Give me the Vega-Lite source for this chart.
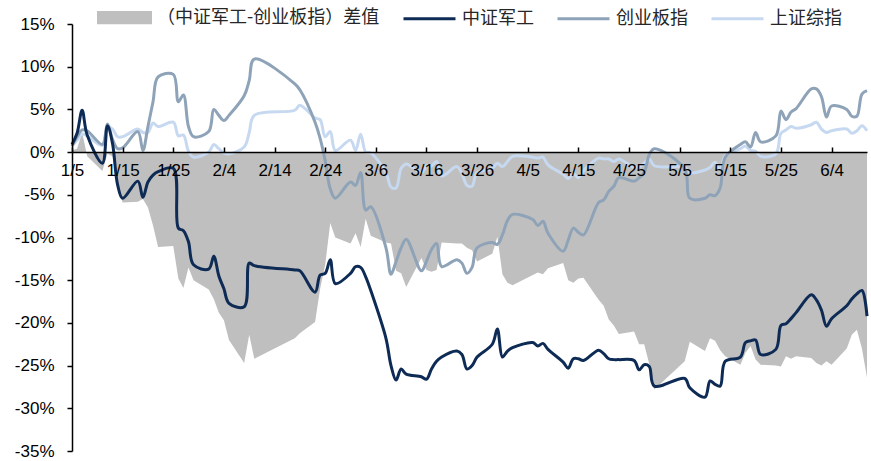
{
  "$schema": "https://vega.github.io/schema/vega-lite/v6.json",
  "width": 795,
  "height": 427,
  "autosize": {"type": "none"},
  "padding": {"left": 72, "top": 24, "right": 4, "bottom": 10},
  "background": "white",
  "config": {"view": {"stroke": null}, "font": "Liberation Sans"},
  "data": {"values": [
    {"date":"2021-01-05","中证军工":0.9,"创业板指":0.7,"上证综指":0.7,"差值":0.2},
    {"date":"2021-01-06","中证军工":2.2,"创业板指":1.8,"上证综指":1.4,"差值":0.4},
    {"date":"2021-01-07","中证军工":4.9,"创业板指":2.6,"上证综指":2.1,"差值":2.3},
    {"date":"2021-01-08","中证军工":2.0,"创业板指":2.5,"上证综指":1.9,"差值":-0.5},
    {"date":"2021-01-11","中证军工":-1.3,"创业板指":0.9,"上证综指":0.8,"差值":-2.2},
    {"date":"2021-01-12","中证军工":3.1,"创业板指":3.3,"上证综指":3.0,"差值":-0.2},
    {"date":"2021-01-13","中证军工":1.0,"创业板指":1.5,"上证综指":2.7,"差值":-0.5},
    {"date":"2021-01-14","中证军工":-3.8,"创业板指":0.4,"上证综指":1.8,"差值":-4.2},
    {"date":"2021-01-15","中证军工":-5.4,"创业板指":0.5,"上证综指":1.8,"差值":-5.9},
    {"date":"2021-01-18","中证军工":-3.4,"创业板指":2.4,"上证综指":2.7,"差值":-5.8},
    {"date":"2021-01-19","中证军工":-5.3,"创业板指":0.2,"上证综指":2.3,"差值":-5.5},
    {"date":"2021-01-20","中证军工":-3.5,"创业板指":3.0,"上证综指":2.3,"差值":-6.5},
    {"date":"2021-01-21","中证军工":-2.7,"创业板指":5.9,"上证综指":3.4,"差值":-8.6},
    {"date":"2021-01-22","中证军工":-2.3,"创业板指":8.8,"上证综指":3.0,"差值":-11.1},
    {"date":"2021-01-25","中证军工":-1.9,"创业板指":9.1,"上证综指":3.5,"差值":-11.0},
    {"date":"2021-01-26","中证军工":-8.9,"创业板指":5.9,"上证综指":1.9,"差值":-14.8},
    {"date":"2021-01-27","中证军工":-9.2,"创业板指":6.7,"上证综指":2.0,"差值":-15.9},
    {"date":"2021-01-28","中证军工":-10.5,"创业板指":3.0,"上证综指":0.1,"差值":-13.5},
    {"date":"2021-01-29","中证军工":-13.2,"创业板指":1.8,"上证综指":-0.6,"差值":-15.0},
    {"date":"2021-02-01","中证军工":-13.7,"创业板指":2.4,"上证综指":0.0,"差值":-16.1},
    {"date":"2021-02-02","中证军工":-12.2,"创业板指":5.0,"上证综指":0.9,"差值":-17.2},
    {"date":"2021-02-03","中证军工":-14.5,"创业板指":4.3,"上证综指":0.4,"差值":-18.8},
    {"date":"2021-02-04","中证军工":-16.0,"创业板指":3.7,"上证综指":-0.1,"差值":-19.7},
    {"date":"2021-02-05","中证军工":-17.7,"创业板指":4.3,"上证综指":-0.2,"差值":-22.0},
    {"date":"2021-02-08","中证军工":-18.1,"创业板指":6.6,"上证综指":0.6,"差值":-24.7},
    {"date":"2021-02-09","中证军工":-13.0,"创业板指":8.4,"上证综指":2.3,"差值":-21.4},
    {"date":"2021-02-10","中证军工":-13.3,"创业板指":10.9,"上证综指":4.3,"差值":-24.2},
    {"date":"2021-02-18","中证军工":-13.8,"创业板指":8.0,"上证综指":4.9,"差值":-21.8},
    {"date":"2021-02-19","中证军工":-13.9,"创业板指":7.3,"上证综指":5.5,"差值":-21.2},
    {"date":"2021-02-22","中证军工":-16.4,"创业板指":3.5,"上证综指":4.0,"差值":-19.9},
    {"date":"2021-02-23","中证军工":-14.4,"创业板指":1.6,"上证综指":3.8,"差值":-16.0},
    {"date":"2021-02-24","中证军工":-14.2,"创业板指":-1.0,"上证综指":1.8,"差值":-13.2},
    {"date":"2021-02-25","中证军工":-12.6,"创业板指":-4.3,"上证综指":2.4,"差值":-8.3},
    {"date":"2021-02-26","中证军工":-15.4,"创业板指":-5.4,"上证综指":0.2,"差值":-10.0},
    {"date":"2021-03-01","中证军工":-14.2,"创业板指":-3.5,"上证综指":1.4,"差值":-10.7},
    {"date":"2021-03-02","中证军工":-13.4,"创业板指":-3.9,"上证综指":0.2,"差值":-9.5},
    {"date":"2021-03-03","中证军工":-13.5,"创业板指":-2.4,"上证综指":2.1,"差值":-11.1},
    {"date":"2021-03-04","中证军工":-14.6,"创业板指":-6.8,"上证综指":0.0,"差值":-7.8},
    {"date":"2021-03-05","中证军工":-16.2,"创业板指":-6.4,"上证综指":-0.1,"差值":-9.8},
    {"date":"2021-03-08","中证军工":-21.8,"创业板指":-11.2,"上证综指":-2.4,"差值":-10.6},
    {"date":"2021-03-09","中证军工":-25.0,"创业板指":-14.3,"上证综指":-4.1,"差值":-10.7},
    {"date":"2021-03-10","中证军工":-26.7,"创业板指":-12.8,"上证综指":-4.2,"差值":-13.9},
    {"date":"2021-03-11","中证军工":-25.4,"创业板指":-11.2,"上证综指":-1.9,"差值":-14.2},
    {"date":"2021-03-12","中证军工":-26.0,"创业板指":-10.2,"上证综指":-1.4,"差值":-15.8},
    {"date":"2021-03-15","中证军工":-26.3,"创业板指":-13.9,"上证综指":-2.4,"差值":-12.4},
    {"date":"2021-03-16","中证军工":-26.6,"创业板指":-12.8,"上证综指":-1.6,"差值":-13.8},
    {"date":"2021-03-17","中证军工":-25.4,"创业板指":-11.4,"上证综指":-1.6,"差值":-14.0},
    {"date":"2021-03-18","中证军工":-24.5,"创业板指":-10.7,"上证综指":-1.1,"差值":-13.8},
    {"date":"2021-03-19","中证军工":-24.0,"创业板指":-13.4,"上证综指":-2.8,"差值":-10.6},
    {"date":"2021-03-22","中证军工":-23.3,"创业板指":-12.6,"上证综指":-1.7,"差值":-10.7},
    {"date":"2021-03-23","中证军工":-23.7,"创业板指":-13.0,"上证综指":-2.5,"差值":-10.7},
    {"date":"2021-03-24","中证军工":-25.4,"创业板指":-14.2,"上证综指":-3.9,"差值":-11.2},
    {"date":"2021-03-25","中证军工":-25.0,"创业板指":-13.5,"上证综指":-4.0,"差值":-11.5},
    {"date":"2021-03-26","中证军工":-24.0,"创业板指":-11.2,"上证综指":-2.4,"差值":-12.8},
    {"date":"2021-03-29","中证军工":-22.5,"创业板指":-10.6,"上证综指":-1.9,"差值":-11.9},
    {"date":"2021-03-30","中证军工":-20.7,"创业板指":-10.8,"上证综指":-1.3,"差值":-9.9},
    {"date":"2021-03-31","中证军工":-24.0,"创业板指":-9.7,"上证综指":-1.7,"差值":-14.3},
    {"date":"2021-04-01","中证军工":-23.3,"创业板指":-8.0,"上证综指":-1.1,"差值":-15.3},
    {"date":"2021-04-02","中证军工":-22.9,"创业板指":-7.3,"上证综指":-0.5,"差值":-15.6},
    {"date":"2021-04-06","中证军工":-22.3,"创业板指":-7.9,"上证综指":-0.6,"差值":-14.4},
    {"date":"2021-04-07","中证军工":-22.7,"创业板指":-8.6,"上证综指":-0.7,"差值":-14.1},
    {"date":"2021-04-08","中证军工":-22.4,"创业板指":-8.1,"上证综指":-0.6,"差值":-14.3},
    {"date":"2021-04-09","中证军工":-23.1,"创业板指":-9.5,"上证综指":-1.5,"差值":-13.6},
    {"date":"2021-04-12","中证军工":-24.6,"创业板指":-11.6,"上证综指":-2.6,"差值":-13.0},
    {"date":"2021-04-13","中证军工":-25.3,"创业板指":-10.3,"上证综指":-3.1,"差值":-15.0},
    {"date":"2021-04-14","中证军工":-24.2,"创业板指":-8.9,"上证综指":-2.5,"差值":-15.3},
    {"date":"2021-04-15","中证军工":-24.2,"创业板指":-9.4,"上证综指":-3.0,"差值":-14.8},
    {"date":"2021-04-16","中证军工":-24.4,"创业板指":-9.7,"上证综指":-2.2,"差值":-14.7},
    {"date":"2021-04-19","中证军工":-23.2,"创业板指":-5.9,"上证综指":-0.7,"差值":-17.3},
    {"date":"2021-04-20","中证军工":-23.6,"创业板指":-5.6,"上证综指":-0.8,"差值":-18.0},
    {"date":"2021-04-21","中证军工":-24.2,"创业板指":-4.6,"上证综指":-0.8,"差值":-19.6},
    {"date":"2021-04-22","中证军工":-24.3,"创业板指":-4.0,"上证综指":-1.1,"差值":-20.3},
    {"date":"2021-04-23","中证军工":-24.3,"创业板指":-3.0,"上证综指":-0.8,"差值":-21.3},
    {"date":"2021-04-26","中证军工":-24.4,"创业板指":-3.4,"上证综指":-1.8,"差值":-21.0},
    {"date":"2021-04-27","中证军工":-25.5,"创业板指":-3.0,"上证综指":-1.7,"差值":-22.5},
    {"date":"2021-04-28","中证军工":-24.9,"创业板指":-2.4,"上证综指":-1.3,"差值":-22.5},
    {"date":"2021-04-29","中证军工":-25.1,"创业板指":-0.3,"上证综指":-0.8,"差值":-24.8},
    {"date":"2021-04-30","中证军工":-27.4,"创业板指":0.4,"上证综指":-1.6,"差值":-27.8},
    {"date":"2021-05-06","中证军工":-26.5,"创业板指":-2.0,"上证综指":-1.8,"差值":-24.5},
    {"date":"2021-05-07","中证军工":-27.6,"创业板指":-5.4,"上证综指":-2.4,"差值":-22.2},
    {"date":"2021-05-10","中证军工":-28.7,"创业板指":-5.4,"上证综指":-2.1,"差值":-23.3},
    {"date":"2021-05-11","中证军工":-26.8,"创业板指":-5.0,"上证综指":-1.8,"差值":-21.8},
    {"date":"2021-05-12","中证军工":-27.2,"创业板指":-5.1,"上证综指":-1.2,"差值":-22.1},
    {"date":"2021-05-13","中证军工":-27.4,"创业板指":-4.2,"上证综指":-2.1,"差值":-23.2},
    {"date":"2021-05-14","中证军工":-24.5,"创业板指":-0.6,"上证综指":-0.4,"差值":-23.9},
    {"date":"2021-05-17","中证军工":-24.0,"创业板指":0.9,"上证综指":0.4,"差值":-24.9},
    {"date":"2021-05-18","中证军工":-22.3,"创业板指":1.2,"上证综指":0.7,"差值":-23.5},
    {"date":"2021-05-19","中证军工":-22.1,"创业板指":0.6,"上证综指":0.2,"差值":-22.7},
    {"date":"2021-05-20","中证军工":-22.0,"创业板指":2.3,"上证综指":0.1,"差值":-24.3},
    {"date":"2021-05-21","中证军工":-23.7,"创业板指":1.2,"上证综指":-0.5,"差值":-24.9},
    {"date":"2021-05-24","中证军工":-23.1,"创业板指":1.9,"上证综指":-0.2,"差值":-25.0},
    {"date":"2021-05-25","中证军工":-20.3,"创业板指":4.8,"上证综指":2.2,"差值":-25.1},
    {"date":"2021-05-26","中证军工":-20.1,"创业板指":3.8,"上证综指":2.6,"差值":-23.9},
    {"date":"2021-05-27","中证军工":-19.5,"创业板指":4.7,"上证综指":3.0,"差值":-24.2},
    {"date":"2021-05-28","中证军工":-18.8,"创业板指":5.1,"上证综指":2.8,"差值":-23.9},
    {"date":"2021-05-31","中证军工":-16.7,"创业板指":7.4,"上证综指":3.2,"差值":-24.1},
    {"date":"2021-06-01","中证军工":-17.3,"创业板指":7.4,"上证综指":3.5,"差值":-24.7},
    {"date":"2021-06-02","中证军工":-18.5,"创业板指":6.5,"上证综指":2.7,"差值":-25.0},
    {"date":"2021-06-03","中证军工":-20.4,"创业板指":4.1,"上证综指":2.3,"差值":-24.5},
    {"date":"2021-06-04","中证军工":-19.5,"创业板指":5.4,"上证综指":2.5,"差值":-24.9},
    {"date":"2021-06-07","中证军工":-18.0,"创业板指":5.0,"上证综指":2.7,"差值":-23.0},
    {"date":"2021-06-08","中证军工":-17.2,"创业板指":4.2,"上证综指":2.2,"差值":-21.4},
    {"date":"2021-06-09","中证军工":-16.6,"创业板指":4.2,"上证综指":2.5,"差值":-20.8},
    {"date":"2021-06-10","中证军工":-16.2,"创业板指":6.8,"上证综指":3.1,"差值":-23.0},
    {"date":"2021-06-11","中证军工":-19.2,"创业板指":7.2,"上证综指":2.5,"差值":-26.4}
  ]},
  "encoding": {
    "x": {
      "field": "date", "type": "temporal",
      "scale": {"type": "utc", "domain": [{"year":2021,"month":1,"date":5,"utc":true},{"year":2021,"month":6,"date":11,"utc":true}]},
      "axis": {
        "title": null, "grid": false, "zindex": 1,
        "values": [
          {"year":2021,"month":1,"date":5,"utc":true},{"year":2021,"month":1,"date":15,"utc":true},{"year":2021,"month":1,"date":25,"utc":true},
          {"year":2021,"month":2,"date":4,"utc":true},{"year":2021,"month":2,"date":14,"utc":true},{"year":2021,"month":2,"date":24,"utc":true},
          {"year":2021,"month":3,"date":6,"utc":true},{"year":2021,"month":3,"date":16,"utc":true},{"year":2021,"month":3,"date":26,"utc":true},
          {"year":2021,"month":4,"date":5,"utc":true},{"year":2021,"month":4,"date":15,"utc":true},{"year":2021,"month":4,"date":25,"utc":true},
          {"year":2021,"month":5,"date":5,"utc":true},{"year":2021,"month":5,"date":15,"utc":true},{"year":2021,"month":5,"date":25,"utc":true},
          {"year":2021,"month":6,"date":4,"utc":true}
        ],
        "labelExpr": "utcFormat(datum.value, '%-m/%-d')",
        "offset": -299,
        "tickSize": -5,
        "labelPadding": 15,
        "domainColor": "#000000", "domainWidth": 1.5,
        "tickColor": "#000000", "tickWidth": 1.5,
        "labelFont": "Liberation Sans", "labelFontSize": 17, "labelColor": "#000000",
        "labelFlush": false, "labelOverlap": false, "labelBound": false
      }
    }
  },
  "layer": [
    {
      "mark": {"type": "area", "opacity": 1, "interpolate": "linear"},
      "encoding": {
        "y": {"field": "差值", "type": "quantitative", "scale": {"domain": [-35, 15], "nice": false, "zero": false},
          "axis": {
            "title": null, "grid": false, "zindex": 1,
            "values": [-35, -30, -25, -20, -15, -10, -5, 0, 5, 10, 15],
            "labelExpr": "datum.value + '%'",
            "tickSize": 5, "labelPadding": 13,
            "domainColor": "#000000", "domainWidth": 1.5,
            "tickColor": "#000000", "tickWidth": 1.5,
            "labelFont": "Liberation Sans", "labelFontSize": 17, "labelColor": "#000000"
          }
        },
        "color": {
          "datum": "（中证军工-创业板指）差值",
          "title": null,
          "scale": {
            "domain": ["（中证军工-创业板指）差值", "中证军工", "创业板指", "上证综指"],
            "range": ["#bfbfbf", "#0d2b55", "#8fa3b8", "#c6d9f0"]
          },
          "legend": {
            "orient": "none", "legendX": 25, "legendY": -34,
            "direction": "horizontal",
            "symbolType": "stroke", "symbolSize": 2704, "symbolStrokeWidth": 3,
            "labelFont": "Noto Sans CJK SC", "labelFontSize": 18, "labelColor": "#262626",
            "labelOffset": 5, "columnPadding": 17, "labelLimit": 0,
            "encode": {
              "symbols": {
                "update": {
                  "shape": {"signal": "datum.value === '（中证军工-创业板指）差值' ? 'M-1,-0.2H1V0.2H-1Z' : 'stroke'"},
                  "fill": {"signal": "datum.value === '（中证军工-创业板指）差值' ? '#bfbfbf' : 'transparent'"},
                  "stroke": {"signal": "datum.value === '（中证军工-创业板指）差值' ? 'transparent' : datum.value === '中证军工' ? '#0d2b55' : datum.value === '创业板指' ? '#8fa3b8' : '#c6d9f0'"},
                  "strokeWidth": {"value": 3},
                  "opacity": {"value": 1}
                }
              }
            }
          }
        }
      }
    },
    {
      "transform": [{"fold": ["上证综指", "创业板指", "中证军工"], "as": ["series", "value"]}],
      "mark": {"type": "line", "interpolate": "catmull-rom", "strokeWidth": 3},
      "encoding": {
        "y": {"field": "value", "type": "quantitative"},
        "color": {
          "field": "series", "type": "nominal", "title": null,
          "legend": {
            "orient": "none", "legendX": 25, "legendY": -34,
            "direction": "horizontal",
            "symbolType": "stroke", "symbolSize": 2704, "symbolStrokeWidth": 3,
            "labelFont": "Noto Sans CJK SC", "labelFontSize": 18, "labelColor": "#262626",
            "labelOffset": 5, "columnPadding": 17, "labelLimit": 0,
            "encode": {
              "symbols": {
                "update": {
                  "shape": {"signal": "datum.value === '（中证军工-创业板指）差值' ? 'M-1,-0.2H1V0.2H-1Z' : 'stroke'"},
                  "fill": {"signal": "datum.value === '（中证军工-创业板指）差值' ? '#bfbfbf' : 'transparent'"},
                  "stroke": {"signal": "datum.value === '（中证军工-创业板指）差值' ? 'transparent' : datum.value === '中证军工' ? '#0d2b55' : datum.value === '创业板指' ? '#8fa3b8' : '#c6d9f0'"},
                  "strokeWidth": {"value": 3},
                  "opacity": {"value": 1}
                }
              }
            }
          }
        }
      }
    }
  ]
}
